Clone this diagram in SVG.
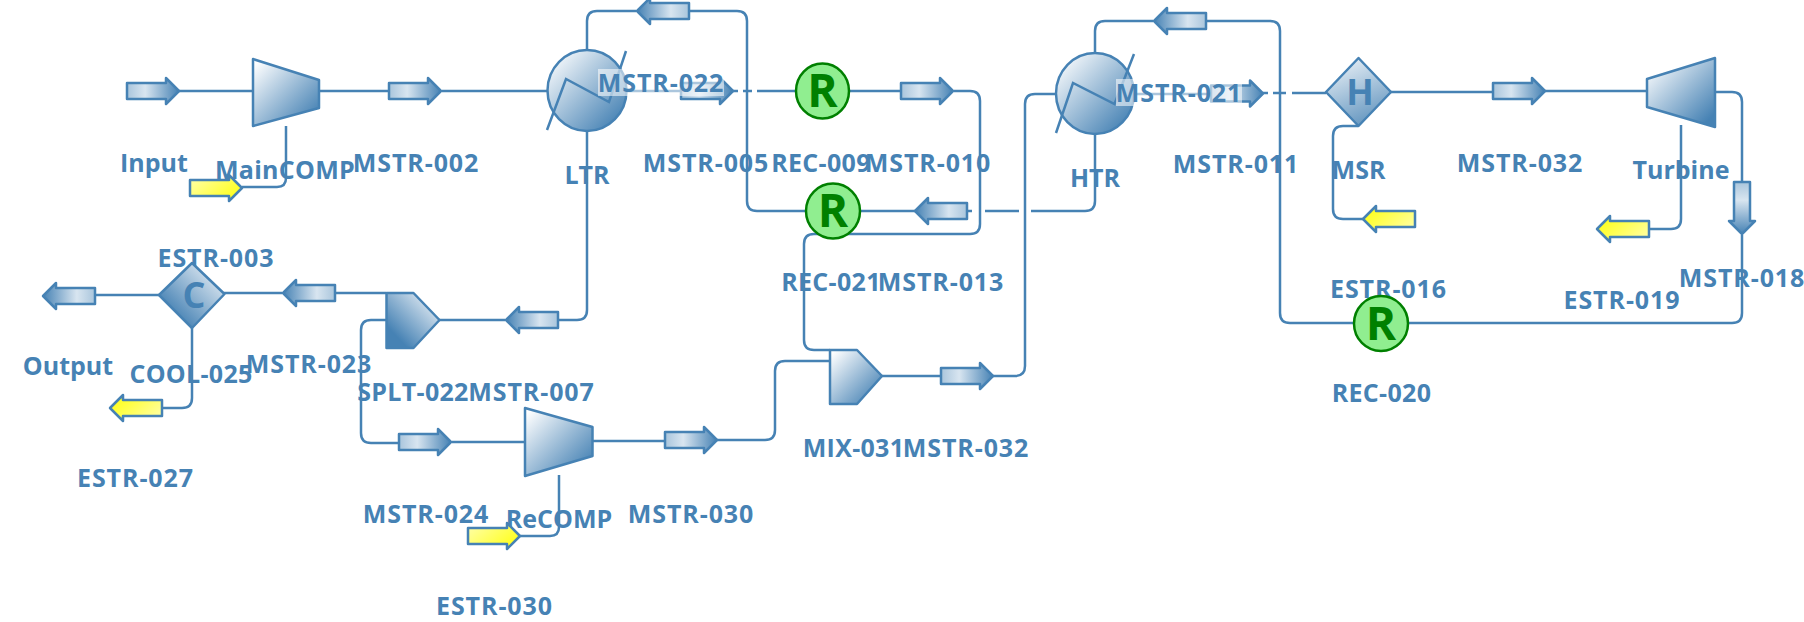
<svg xmlns="http://www.w3.org/2000/svg" width="1804" height="622" viewBox="0 0 1804 622">
<style>
text{font-family:"Open Sans","Noto Sans","DejaVu Sans",sans-serif;font-weight:700;font-size:25px;fill:#4682B4;text-anchor:middle}
.m{letter-spacing:.9px}
.n{letter-spacing:.3px}
.c{fill:none;stroke:#4682B4;stroke-width:2.5}
.s{stroke:#4682B4;stroke-width:2.5;stroke-linejoin:round}
.eq{fill:url(#g)}
.ar{fill:url(#a)}
.ay{fill:url(#y)}
.rc{fill:#90EE90;stroke:#008000;stroke-width:2.5}
.rt{font-weight:700;font-size:46px;fill:#008000}
.lt{font-weight:700;font-size:36px}
.bg{fill:#fff;fill-opacity:.55}
</style>
<defs>
<linearGradient id="g" x1="0" y1="0" x2="1" y2="1"><stop offset=".05" stop-color="#fff"/><stop offset=".9" stop-color="#4682B4"/></linearGradient>
<linearGradient id="d" x1="1" y1="0" x2="0" y2="1"><stop offset=".1" stop-color="#e6eef5"/><stop offset=".8" stop-color="#4682B4"/></linearGradient>
<linearGradient id="h" x1=".3" y1="0" x2=".7" y2="1"><stop offset="0" stop-color="#e6eef5"/><stop offset="1" stop-color="#5e92bd"/></linearGradient>
<linearGradient id="a" x1="0" y1="0" x2="1" y2="0"><stop offset="0" stop-color="#a9c5dc"/><stop offset=".35" stop-color="#d8e5f0"/><stop offset="1" stop-color="#4682B4"/></linearGradient>
<linearGradient id="y" x1="0" y1="0" x2="1" y2=".6"><stop offset="0" stop-color="#ffffb0"/><stop offset="1" stop-color="#ffff20"/></linearGradient>
<path id="arrow" d="M1,-8H40V-13L53,0L40,13V8H1Z"/>
</defs>
<g id="connectors">
<path class="c" d="M179 91H253"/>
<path class="c" d="M319 91H389"/>
<path class="c" d="M442 91H547"/>
<path class="c" d="M286 126V178Q286 187 277 187H242"/>
<path class="c" d="M626 91H680"/>
<path class="c" d="M733 91H738M743 91H752M757 91H796"/>
<path class="c" d="M849 91H900"/>
<path class="c" d="M954 91H970Q980 91 980 101V224Q980 234 970 234H814Q804 234 804 244V340Q804 350 814 350H830"/>
<path class="c" d="M587 50V21Q587 11 597 11H636"/>
<path class="c" d="M689 11H737Q747 11 747 21V201Q747 211 757 211H806"/>
<path class="c" d="M860 211H915"/>
<path class="c" d="M967 211H972M985 211H1019M1031 211H1085Q1095 211 1095 201V134"/>
<path class="c" d="M587 131V310Q587 320 577 320H558"/>
<path class="c" d="M505 320H439"/>
<path class="c" d="M386 293H335"/>
<path class="c" d="M282 293H224"/>
<path class="c" d="M159 295H95"/>
<path class="c" d="M192 328V398Q192 408 182 408H162"/>
<path class="c" d="M386 320H371Q361 320 361 330V433Q361 443 371 443H399"/>
<path class="c" d="M452 442H525"/>
<path class="c" d="M559 475V527Q559 536 550 536H520"/>
<path class="c" d="M593 441H665"/>
<path class="c" d="M717 440H765Q775 440 775 430V371Q775 361 785 361H830"/>
<path class="c" d="M882 376H940"/>
<path class="c" d="M993 376H1015Q1025 376 1025 366V104Q1025 94 1035 94H1056"/>
<path class="c" d="M1095 53V31Q1095 21 1105 21H1153"/>
<path class="c" d="M1206 21H1270Q1280 21 1280 31V313Q1280 323 1290 323H1354"/>
<path class="c" d="M1134 94H1210"/>
<path class="c" d="M1263 93H1268M1273 93H1286M1292 93H1326"/>
<path class="c" d="M1391 92H1493"/>
<path class="c" d="M1545 91H1647"/>
<path class="c" d="M1358 126H1343Q1333 126 1333 136V209Q1333 219 1343 219H1364"/>
<path class="c" d="M1681 125V219Q1681 229 1671 229H1649"/>
<path class="c" d="M1715 92H1732Q1742 92 1742 102V182"/>
<path class="c" d="M1742 235V313Q1742 323 1732 323H1408"/>
</g>
<g id="Input"><use href="#arrow" class="ar s" transform="translate(126 91)"/><text x="154" y="172">Input</text></g>
<g id="MainCOMP"><path class="eq s" d="M253 59L319 80V108L253 126Z"/><text class="n" x="285" y="179">MainCOMP</text></g>
<g id="ESTR-003"><use href="#arrow" class="ay s" transform="translate(189 188)"/><text class="m" x="216" y="267">ESTR-003</text></g>
<g id="MSTR-002"><use href="#arrow" class="ar s" transform="translate(388 91)"/><text class="m" x="416" y="172">MSTR-002</text></g>
<g id="LTR"><ellipse class="eq s" cx="587" cy="90.5" rx="39.5" ry="40.5"/><path class="c" d="M547 130L566 79L609 102L626 51"/><text x="587" y="184">LTR</text></g>
<g id="MSTR-005"><use href="#arrow" class="ar s" transform="translate(680 91)"/><text class="m" x="706" y="172">MSTR-005</text></g>
<g id="MSTR-022"><use href="#arrow" class="ar s" transform="translate(690 11) rotate(180)"/><rect class="bg" x="598" y="69" width="126" height="27"/><text class="m" x="661" y="92">MSTR-022</text></g>
<g id="REC-009"><ellipse class="rc" cx="822.5" cy="91" rx="26.5" ry="27.5"/><text class="rt" x="822.5" y="107">R</text><text class="n" x="821" y="172">REC-009</text></g>
<g id="MSTR-010"><use href="#arrow" class="ar s" transform="translate(900 91)"/><text class="m" x="928" y="172">MSTR-010</text></g>
<g id="REC-021"><text class="n" x="831" y="291">REC-021</text><ellipse class="rc" cx="833" cy="211" rx="27" ry="27.5"/><text class="rt" x="833" y="227">R</text></g>
<g id="MSTR-013"><use href="#arrow" class="ar s" transform="translate(968 211) rotate(180)"/><text class="m" x="941" y="291">MSTR-013</text></g>
<g id="HTR"><ellipse class="eq s" cx="1095" cy="93.5" rx="39" ry="40.5"/><path class="c" d="M1056 133L1073 83L1114.500 104L1134 54"/><text x="1095" y="187">HTR</text></g>
<g id="MSTR-011"><use href="#arrow" class="ar s" transform="translate(1210 93.500)"/><text class="m" x="1236" y="172.500">MSTR-011</text></g>
<g id="MSTR-021"><use href="#arrow" class="ar s" transform="translate(1207 21) rotate(180)"/><rect class="bg" x="1116" y="79" width="126" height="27"/><text class="m" x="1179" y="102">MSTR-021</text></g>
<g id="MSR"><path class="s" fill="url(#h)" d="M1358.500 58L1391 92L1358.500 126L1326 92Z"/><text class="lt" x="1360" y="105">H</text><text x="1358.500" y="179">MSR</text></g>
<g id="MSTR-032"><use href="#arrow" class="ar s" transform="translate(1492 91)"/><text class="m" x="1520" y="172">MSTR-032</text></g>
<g id="Turbine"><path class="eq s" d="M1647 79L1715 58V127L1647 107Z"/><text x="1681" y="179">Turbine</text></g>
<g id="ESTR-016"><use href="#arrow" class="ay s" transform="translate(1416 219) rotate(180)"/><text class="m" x="1388.500" y="298">ESTR-016</text></g>
<g id="ESTR-019"><use href="#arrow" class="ay s" transform="translate(1650 229) rotate(180)"/><text class="m" x="1622" y="309">ESTR-019</text></g>
<g id="MSTR-018"><use href="#arrow" class="ar s" transform="translate(1742 181) rotate(90)"/><text class="m" x="1742" y="287">MSTR-018</text></g>
<g id="REC-020"><ellipse class="rc" cx="1381" cy="323.500" rx="27" ry="27.500"/><text class="rt" x="1381" y="339.500">R</text><text class="n" x="1381.500" y="402">REC-020</text></g>
<g id="Output"><use href="#arrow" class="ar s" transform="translate(96 296) rotate(180)"/><text x="68" y="375">Output</text></g>
<g id="COOL-025"><path class="s" fill="url(#d)" d="M192 263L224.500 294L192 328L159 295Z"/><text class="lt" x="194" y="308">C</text><text class="n" x="191" y="383">COOL-025</text></g>
<g id="ESTR-027"><use href="#arrow" class="ay s" transform="translate(163 408) rotate(180)"/><text class="m" x="135.500" y="487">ESTR-027</text></g>
<g id="MSTR-023"><use href="#arrow" class="ar s" transform="translate(336 293) rotate(180)"/><text class="m" x="309" y="373">MSTR-023</text></g>
<g id="SPLT-022"><path class="s" fill="url(#d)" d="M386.500 293H413.500L439.500 320L413.500 348H386.500Z"/><text class="n" x="413" y="401">SPLT-022</text></g>
<g id="MSTR-007"><use href="#arrow" class="ar s" transform="translate(559 320) rotate(180)"/><text class="m" x="531.500" y="401">MSTR-007</text></g>
<g id="MSTR-024"><use href="#arrow" class="ar s" transform="translate(398 442)"/><text class="m" x="426" y="523">MSTR-024</text></g>
<g id="ReCOMP"><path class="eq s" d="M525 408L592.500 427V456L525 476Z"/><text x="559" y="528">ReCOMP</text></g>
<g id="ESTR-030"><use href="#arrow" class="ay s" transform="translate(467 536)"/><text class="m" x="494.500" y="615">ESTR-030</text></g>
<g id="MSTR-030"><use href="#arrow" class="ar s" transform="translate(664 440)"/><text class="m" x="691" y="523">MSTR-030</text></g>
<g id="MIX-031"><path class="eq s" d="M830 350H857L882 376L857 404H830Z"/><text class="n" x="853.500" y="457">MIX-031</text></g>
<g id="MSTR-032b"><use href="#arrow" class="ar s" transform="translate(940 376)"/><text class="m" x="966" y="457">MSTR-032</text></g>
</svg>
